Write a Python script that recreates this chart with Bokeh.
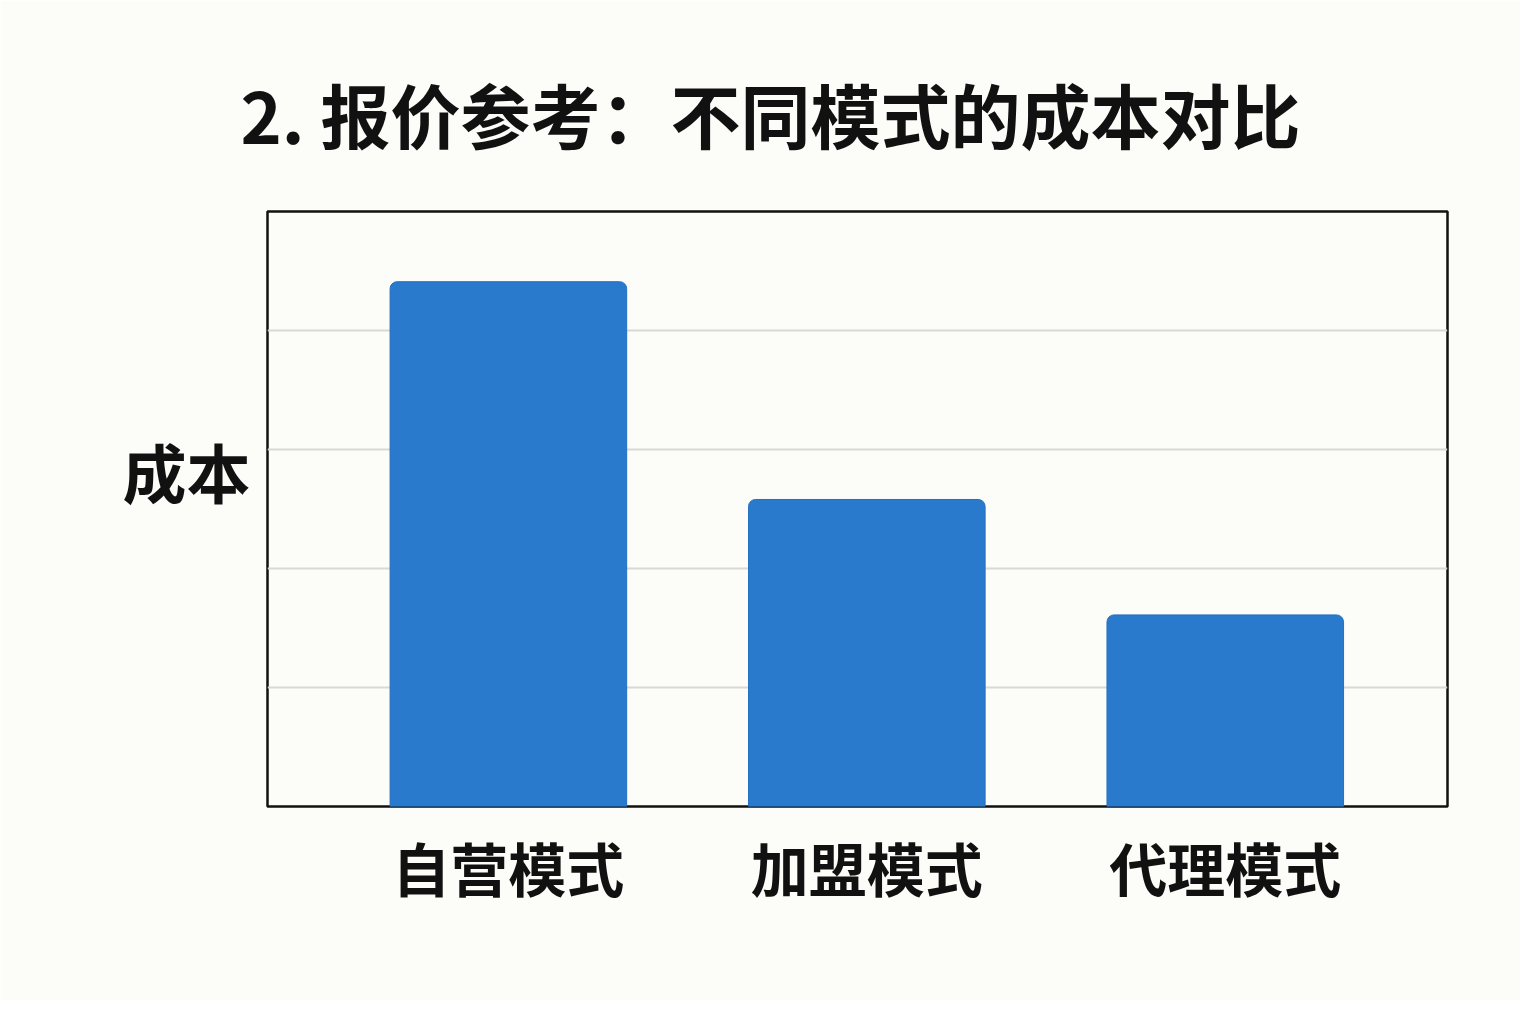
from bokeh.plotting import figure
from bokeh.models import FixedTicker, Range1d
from bokeh.embed import file_html
from bokeh.resources import INLINE

categories = ["自营模式", "加盟模式", "代理模式"]
costs = [4.41, 2.58, 1.61]
title_text = "2. 报价参考：不同模式的成本对比"
y_label = "成本"
y_label_at = 2.83
grid_values = [1, 2, 3, 4]

FONT = "Noto Sans CJK SC"
BG = "#fcfcf8"
BAR = "#2979cc"

positions = list(range(1, len(categories) + 1))

p = figure(width=1520, height=1000, output_backend="svg", toolbar_location=None,
           x_range=Range1d(0.328, 3.62), y_range=Range1d(0, 5),
           min_border_left=267, min_border_right=73, min_border_top=211,
           min_border_bottom=194, background_fill_color=BG,
           border_fill_color=BG)

p.title.text = title_text
p.title.text_font = FONT
p.title.text_font_size = "70px"
p.title.text_font_style = "bold"
p.title.text_color = "#111111"
p.title.align = "left"
p.title.offset = -27
p.title.standoff = 96

p.vbar(x=positions, top=costs, width=0.66, bottom=0, fill_color=BAR,
       line_color="#2470c0", line_width=1, border_radius=(7, 7, 0, 0))

p.outline_line_color = "#111111"
p.outline_line_width = 2.5

p.xaxis.ticker = FixedTicker(ticks=positions)
p.xaxis.major_label_overrides = {pos: c for pos, c in zip(positions, categories)}
p.xaxis.major_label_text_font = FONT
p.xaxis.major_label_text_font_size = "58px"
p.xaxis.major_label_text_font_style = "bold"
p.xaxis.major_label_text_color = "#111111"
p.xaxis.major_label_standoff = 12
p.xaxis.major_tick_line_color = None
p.xaxis.minor_tick_line_color = None
p.xaxis.axis_line_color = None
p.xgrid.grid_line_color = None

p.yaxis.ticker = FixedTicker(ticks=[y_label_at])
p.yaxis.major_label_overrides = {y_label_at: y_label}
p.yaxis.major_label_text_font = FONT
p.yaxis.major_label_text_font_size = "64px"
p.yaxis.major_label_text_font_style = "bold"
p.yaxis.major_label_text_color = "#111111"
p.yaxis.major_label_standoff = 11
p.yaxis.major_tick_line_color = None
p.yaxis.minor_tick_line_color = None
p.yaxis.axis_line_color = None

p.ygrid.ticker = FixedTicker(ticks=grid_values)
p.ygrid.grid_line_color = "#d8d8d4"
p.ygrid.grid_line_width = 2

open("out.html", "w").write(file_html(p, INLINE))
